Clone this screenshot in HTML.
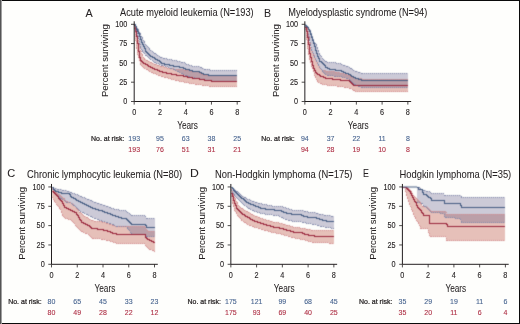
<!DOCTYPE html><html><head><meta charset="utf-8"><style>html,body{margin:0;padding:0;background:#fefefc;}svg{display:block;will-change:transform;}text{font-family:"Liberation Sans", sans-serif;stroke-width:0.06px;opacity:0.995;}.s{stroke-width:0.1px;}.k{fill:#231f20;stroke:#231f20;}.bt{fill:#46638f;stroke:#46638f;}.rt{fill:#ae2e44;stroke:#ae2e44;}</style></head><body>
<div><svg width="520" height="324" viewBox="0 0 520 324"><defs><filter id="bl" x="-5%" y="-5%" width="110%" height="110%" color-interpolation-filters="sRGB"><feConvolveMatrix order="3" kernelMatrix="0.03 0.1 0.03 0.1 0.48 0.1 0.03 0.1 0.03" divisor="1" edgeMode="duplicate" preserveAlpha="false"/></filter></defs>
<rect x="0" y="0" width="520" height="324" fill="#fefefc"/>
<g filter="url(#bl)"><polygon points="134,25 135,25 135,29 136,29 136,33 137,33 137,36 138,36 138,40 139,40 139,44 140,44 140,50 141,50 141,53 142,53 142,55 143,55 143,57 144,57 144,59 145,59 145,59 146,59 146,60 147,60 147,60 148,60 148,61 149,61 149,61 150,61 150,62 151,62 151,62 152,62 152,63 153,63 153,63 154,63 154,64 155,64 155,64 156,64 156,64 157,64 157,65 158,65 158,65 159,65 159,65 160,65 160,66 161,66 161,66 162,66 162,66 163,66 163,66 164,66 164,67 165,67 165,67 166,67 166,67 167,67 167,68 168,68 168,68 169,68 169,68 170,68 170,68 171,68 171,68 172,68 172,68 173,68 173,68 174,68 174,69 175,69 175,69 176,69 176,69 177,69 177,69 178,69 178,69 179,69 179,69 180,69 180,69 181,69 181,69 182,69 182,69 183,69 183,69 184,69 184,70 185,70 185,70 186,70 186,70 187,70 187,70 188,70 188,70 189,70 189,70 190,70 190,70 191,70 191,71 192,71 192,71 193,71 193,71 194,71 194,71 195,71 195,71 196,71 196,71 197,71 197,71 198,71 198,71 199,71 199,72 200,72 200,73 201,73 201,73 202,73 202,74 203,74 203,74 204,74 204,75 205,75 205,75 206,75 206,75 207,75 207,75 208,75 208,75 209,75 209,75 210,75 210,75 211,75 211,75 212,75 212,75 213,75 213,75 214,75 214,75 215,75 215,75 216,75 216,75 217,75 217,75 218,75 218,75 219,75 219,75 220,75 220,75 221,75 221,75 222,75 222,75 223,75 223,75 224,75 224,75 225,75 225,75 226,75 226,75 227,75 227,75 228,75 228,75 229,75 229,75 230,75 230,75 231,75 231,75 232,75 232,75 233,75 233,75 234,75 234,75 235,75 235,75 236,75 236,75 237,75 237,87 236,87 236,87 235,87 235,87 234,87 234,87 233,87 233,87 232,87 232,87 231,87 231,87 230,87 230,87 229,87 229,87 228,87 228,87 227,87 227,87 226,87 226,87 225,87 225,87 224,87 224,87 223,87 223,87 222,87 222,87 221,87 221,87 220,87 220,87 219,87 219,87 218,87 218,87 217,87 217,87 216,87 216,87 215,87 215,87 214,87 214,87 213,87 213,87 212,87 212,87 211,87 211,87 210,87 210,87 209,87 209,86 208,86 208,86 207,86 207,86 206,86 206,86 205,86 205,86 204,86 204,86 203,86 203,86 202,86 202,85 201,85 201,85 200,85 200,85 199,85 199,85 198,85 198,85 197,85 197,85 196,85 196,85 195,85 195,84 194,84 194,84 193,84 193,84 192,84 192,84 191,84 191,84 190,84 190,84 189,84 189,83 188,83 188,83 187,83 187,83 186,83 186,83 185,83 185,83 184,83 184,82 183,82 183,82 182,82 182,82 181,82 181,82 180,82 180,82 179,82 179,81 178,81 178,81 177,81 177,81 176,81 176,81 175,81 175,80 174,80 174,80 173,80 173,80 172,80 172,80 171,80 171,79 170,79 170,79 169,79 169,79 168,79 168,78 167,78 167,78 166,78 166,78 165,78 165,78 164,78 164,77 163,77 163,77 162,77 162,77 161,77 161,76 160,76 160,76 159,76 159,76 158,76 158,75 157,75 157,75 156,75 156,74 155,74 155,74 154,74 154,74 153,74 153,73 152,73 152,73 151,73 151,72 150,72 150,72 149,72 149,71 148,71 148,70 147,70 147,70 146,70 146,69 145,69 145,69 144,69 144,68 143,68 143,67 142,67 142,66 141,66 141,65 140,65 140,61 139,61 139,58 138,58 138,55 137,55 137,49 136,49 136,41 135,41 135,29 134,29" fill="#e6c0b9" shape-rendering="crispEdges"/><polygon points="134,24 135,24 135,25 136,25 136,26 137,26 137,28 138,28 138,30 139,30 139,32 140,32 140,34 141,34 141,36 142,36 142,38 143,38 143,40 144,40 144,42 145,42 145,44 146,44 146,45 147,45 147,46 148,46 148,47 149,47 149,49 150,49 150,50 151,50 151,50 152,50 152,51 153,51 153,52 154,52 154,53 155,53 155,53 156,53 156,54 157,54 157,55 158,55 158,55 159,55 159,56 160,56 160,57 161,57 161,57 162,57 162,57 163,57 163,58 164,58 164,58 165,58 165,58 166,58 166,58 167,58 167,59 168,59 168,59 169,59 169,59 170,59 170,59 171,59 171,59 172,59 172,60 173,60 173,60 174,60 174,60 175,60 175,60 176,60 176,60 177,60 177,61 178,61 178,61 179,61 179,61 180,61 180,61 181,61 181,62 182,62 182,62 183,62 183,62 184,62 184,62 185,62 185,63 186,63 186,64 187,64 187,64 188,64 188,64 189,64 189,65 190,65 190,65 191,65 191,65 192,65 192,66 193,66 193,66 194,66 194,66 195,66 195,66 196,66 196,66 197,66 197,66 198,66 198,66 199,66 199,66 200,66 200,67 201,67 201,67 202,67 202,68 203,68 203,68 204,68 204,69 205,69 205,69 206,69 206,69 207,69 207,69 208,69 208,69 209,69 209,69 210,69 210,70 211,70 211,70 212,70 212,70 213,70 213,70 214,70 214,70 215,70 215,70 216,70 216,70 217,70 217,70 218,70 218,70 219,70 219,70 220,70 220,70 221,70 221,70 222,70 222,70 223,70 223,70 224,70 224,70 225,70 225,70 226,70 226,70 227,70 227,70 228,70 228,70 229,70 229,70 230,70 230,70 231,70 231,70 232,70 232,70 233,70 233,70 234,70 234,70 235,70 235,70 236,70 236,70 237,70 237,82 236,82 236,82 235,82 235,82 234,82 234,82 233,82 233,82 232,82 232,82 231,82 231,82 230,82 230,82 229,82 229,82 228,82 228,82 227,82 227,82 226,82 226,82 225,82 225,82 224,82 224,82 223,82 223,82 222,82 222,82 221,82 221,82 220,82 220,82 219,82 219,82 218,82 218,82 217,82 217,82 216,82 216,82 215,82 215,82 214,82 214,82 213,82 213,82 212,82 212,82 211,82 211,81 210,81 210,81 209,81 209,81 208,81 208,81 207,81 207,81 206,81 206,81 205,81 205,81 204,81 204,80 203,80 203,80 202,80 202,80 201,80 201,80 200,80 200,80 199,80 199,79 198,79 198,79 197,79 197,79 196,79 196,79 195,79 195,78 194,78 194,78 193,78 193,78 192,78 192,78 191,78 191,77 190,77 190,77 189,77 189,77 188,77 188,76 187,76 187,76 186,76 186,76 185,76 185,75 184,75 184,75 183,75 183,74 182,74 182,74 181,74 181,73 180,73 180,73 179,73 179,72 178,72 178,72 177,72 177,71 176,71 176,71 175,71 175,70 174,70 174,70 173,70 173,69 172,69 172,69 171,69 171,69 170,69 170,68 169,68 169,68 168,68 168,67 167,67 167,67 166,67 166,67 165,67 165,66 164,66 164,66 163,66 163,66 162,66 162,66 161,66 161,65 160,65 160,65 159,65 159,64 158,64 158,64 157,64 157,64 156,64 156,63 155,63 155,63 154,63 154,62 153,62 153,61 152,61 152,60 151,60 151,60 150,60 150,59 149,59 149,58 148,58 148,57 147,57 147,56 146,56 146,56 145,56 145,54 144,54 144,53 143,53 143,52 142,52 142,50 141,50 141,48 140,48 140,44 139,44 139,39 138,39 138,36 137,36 137,32 136,32 136,29 135,29 135,26 134,26" fill="rgb(88,82,128)" fill-opacity="0.3" shape-rendering="crispEdges"/><path d="M134,25.5H135V29.5H136V33.5H137V36.5H138V40.5H139V44.5H140V50.5H141V53.5H142V55.5H143V57.5H144V59.5H145H146V60.5H147H148V61.5H149H150V62.5H151H152V63.5H153H154V64.5H155H156H157V65.5H158H159H160V66.5H161H162H163H164V67.5H165H166H167V68.5H168H169H170H171H172H173H174V69.5H175H176H177H178H179H180H181H182H183H184V70.5H185H186H187H188H189H190H191V71.5H192H193H194H195H196H197H198H199V72.5H200V73.5H201H202V74.5H203H204V75.5H205H206H207H208H209H210H211H212H213H214H215H216H217H218H219H220H221H222H223H224H225H226H227H228H229H230H231H232H233H234H235H236H237" fill="none" stroke="#d38e90" stroke-width="1" stroke-dasharray="1 1" shape-rendering="crispEdges"/><path d="M134,28.5H135V40.5H136V48.5H137V54.5H138V57.5H139V60.5H140V64.5H141V65.5H142V66.5H143V67.5H144V68.5H145H146V69.5H147H148V70.5H149V71.5H150H151V72.5H152H153V73.5H154H155H156V74.5H157H158V75.5H159H160H161V76.5H162H163H164V77.5H165H166H167H168V78.5H169H170H171V79.5H172H173H174H175V80.5H176H177H178H179V81.5H180H181H182H183H184V82.5H185H186H187H188H189V83.5H190H191H192H193H194H195V84.5H196H197H198H199H200H201H202V85.5H203H204H205H206H207H208H209V86.5H210H211H212H213H214H215H216H217H218H219H220H221H222H223H224H225H226H227H228H229H230H231H232H233H234H235H236H237" fill="none" stroke="#d38e90" stroke-width="1" stroke-dasharray="1 1" shape-rendering="crispEdges"/><path d="M134,24.5H135V25.5H136V26.5H137V28.5H138V30.5H139V32.5H140V34.5H141V36.5H142V38.5H143V40.5H144V42.5H145V44.5H146V45.5H147V46.5H148V47.5H149V49.5H150V50.5H151H152V51.5H153V52.5H154V53.5H155H156V54.5H157V55.5H158H159V56.5H160V57.5H161H162H163V58.5H164H165H166H167V59.5H168H169H170H171H172V60.5H173H174H175H176H177V61.5H178H179H180H181V62.5H182H183H184H185V63.5H186V64.5H187H188H189V65.5H190H191H192V66.5H193H194H195H196H197H198H199H200V67.5H201H202V68.5H203H204V69.5H205H206H207H208H209H210V70.5H211H212H213H214H215H216H217H218H219H220H221H222H223H224H225H226H227H228H229H230H231H232H233H234H235H236H237" fill="none" stroke="#8088aa" stroke-width="1" stroke-dasharray="1 1" shape-rendering="crispEdges"/><path d="M134,25.5H135V28.5H136V31.5H137V35.5H138V38.5H139V43.5H140V47.5H141V49.5H142V51.5H143V52.5H144V53.5H145V55.5H146H147V56.5H148V57.5H149V58.5H150V59.5H151H152V60.5H153V61.5H154V62.5H155H156V63.5H157H158H159V64.5H160H161V65.5H162H163H164H165V66.5H166H167H168V67.5H169H170V68.5H171H172H173V69.5H174H175V70.5H176H177V71.5H178H179V72.5H180H181V73.5H182H183V74.5H184H185V75.5H186H187H188V76.5H189H190H191V77.5H192H193H194H195V78.5H196H197H198H199V79.5H200H201H202H203H204V80.5H205H206H207H208H209H210H211V81.5H212H213H214H215H216H217H218H219H220H221H222H223H224H225H226H227H228H229H230H231H232H233H234H235H236H237" fill="none" stroke="#8088aa" stroke-width="1" stroke-dasharray="1 1" shape-rendering="crispEdges"/><path d="M134,25.5H135V31.5H136V36.5H137V43.5H138V51.5H139V57.5H140V60.5H141V61.5H142V62.5H143V63.5H144H145V64.5H146H147V65.5H148V66.5H149H150V67.5H151H152V68.5H153H154V69.5H155H156H157V70.5H158H159V71.5H160H161H162V72.5H163H164H165H166V73.5H167H168H169H170H171V74.5H172H173H174H175H176V75.5H177H178H179H180H181H182H183V76.5H184H185H186H187V77.5H188H189H190H191H192V78.5H193H194H195H196H197H198H199V79.5H200H201H202H203H204V80.5H205H206H207H208H209H210H211V81.5H212H213H214H215H216H217H218H219H220H221H222H223H224H225H226H227H228H229H230H231H232H233H234H235H236H237" fill="none" stroke="#98243a" stroke-width="1" shape-rendering="crispEdges"/><path d="M134,24.5H135V26.5H136V29.5H137V31.5H138V33.5H139V36.5H140V39.5H141V42.5H142V44.5H143V46.5H144V48.5H145V51.5H146V52.5H147V53.5H148V54.5H149V55.5H150V56.5H151H152V57.5H153H154V58.5H155V59.5H156H157V60.5H158H159V61.5H160V62.5H161V63.5H162H163H164V64.5H165H166H167H168H169V65.5H170H171H172H173V66.5H174H175H176H177H178H179V67.5H180H181H182H183V68.5H184H185V69.5H186H187H188H189V70.5H190H191H192V71.5H193H194H195H196H197H198H199V72.5H200H201V73.5H202H203V74.5H204H205H206H207H208V75.5H209H210H211H212H213H214H215H216H217H218H219H220H221H222H223H224H225H226H227H228H229H230H231H232H233H234H235H236H237" fill="none" stroke="#425a80" stroke-width="1" shape-rendering="crispEdges"/></g><g><path d="M134.20,21.30V101.50H240.50" fill="none" stroke="#231f20" stroke-width="1"/><path d="M131.00,101.50H134.20M134.20,101.50V104.60M131.00,82.20H134.20M159.95,101.50V104.60M131.00,62.90H134.20M185.70,101.50V104.60M131.00,43.60H134.20M211.45,101.50V104.60M131.00,24.30H134.20M237.20,101.50V104.60" fill="none" stroke="#231f20" stroke-width="0.8"/><text transform="translate(127.40,104.10) scale(1,1.14)" font-size="7.3" text-anchor="end" class="k s">0</text><text transform="translate(127.40,84.80) scale(1,1.14)" font-size="7.3" text-anchor="end" class="k s">25</text><text transform="translate(127.40,65.50) scale(1,1.14)" font-size="7.3" text-anchor="end" class="k s">50</text><text transform="translate(127.40,46.20) scale(1,1.14)" font-size="7.3" text-anchor="end" class="k s">75</text><text transform="translate(127.40,26.90) scale(1,1.14)" font-size="7.3" text-anchor="end" class="k s">100</text><text transform="translate(134.20,115.20) scale(1,1.14)" font-size="7.3" text-anchor="middle" class="k s">0</text><text transform="translate(159.95,115.20) scale(1,1.14)" font-size="7.3" text-anchor="middle" class="k s">2</text><text transform="translate(185.70,115.20) scale(1,1.14)" font-size="7.3" text-anchor="middle" class="k s">4</text><text transform="translate(211.45,115.20) scale(1,1.14)" font-size="7.3" text-anchor="middle" class="k s">6</text><text transform="translate(237.20,115.20) scale(1,1.14)" font-size="7.3" text-anchor="middle" class="k s">8</text><text x="177.20" y="129.10" font-size="10.2" textLength="20.8" lengthAdjust="spacingAndGlyphs" class="k">Years</text><text transform="translate(107.50,97.00) rotate(-90)" x="0" y="0" font-size="9.7" textLength="72.8" lengthAdjust="spacingAndGlyphs" class="k">Percent surviving</text><text x="85.6" y="16.8" font-size="11" textLength="7.2" lengthAdjust="spacingAndGlyphs" class="k">A</text><text x="120.1" y="15.9" font-size="10.1" textLength="133.6" lengthAdjust="spacingAndGlyphs" class="k">Acute myeloid leukemia (N=193)</text><text x="91.00" y="140.80" font-size="7" textLength="33.4" lengthAdjust="spacingAndGlyphs" class="k" style="stroke-width:0.24px">No. at risk:</text><text x="134.20" y="140.80" font-size="7" text-anchor="middle" class="bt s">193</text><text x="134.20" y="152.00" font-size="7" text-anchor="middle" class="rt s">193</text><text x="159.95" y="140.80" font-size="7" text-anchor="middle" class="bt s">95</text><text x="159.95" y="152.00" font-size="7" text-anchor="middle" class="rt s">76</text><text x="185.70" y="140.80" font-size="7" text-anchor="middle" class="bt s">63</text><text x="185.70" y="152.00" font-size="7" text-anchor="middle" class="rt s">51</text><text x="211.45" y="140.80" font-size="7" text-anchor="middle" class="bt s">38</text><text x="211.45" y="152.00" font-size="7" text-anchor="middle" class="rt s">31</text><text x="237.20" y="140.80" font-size="7" text-anchor="middle" class="bt s">25</text><text x="237.20" y="152.00" font-size="7" text-anchor="middle" class="rt s">21</text></g>
<g filter="url(#bl)"><polygon points="305,25 306,25 306,27 307,27 307,29 308,29 308,35 309,35 309,42 310,42 310,48 311,48 311,50 312,50 312,52 313,52 313,54 314,54 314,57 315,57 315,59 316,59 316,61 317,61 317,63 318,63 318,65 319,65 319,67 320,67 320,68 321,68 321,69 322,69 322,70 323,70 323,70 324,70 324,70 325,70 325,70 326,70 326,71 327,71 327,71 328,71 328,71 329,71 329,71 330,71 330,71 331,71 331,71 332,71 332,71 333,71 333,71 334,71 334,71 335,71 335,72 336,72 336,72 337,72 337,72 338,72 338,72 339,72 339,72 340,72 340,73 341,73 341,73 342,73 342,73 343,73 343,73 344,73 344,74 345,74 345,74 346,74 346,74 347,74 347,75 348,75 348,75 349,75 349,75 350,75 350,76 351,76 351,76 352,76 352,77 353,77 353,77 354,77 354,77 355,77 355,77 356,77 356,78 357,78 357,78 358,78 358,78 359,78 359,78 360,78 360,78 361,78 361,78 362,78 362,79 363,79 363,79 364,79 364,79 365,79 365,79 366,79 366,79 367,79 367,79 368,79 368,79 369,79 369,79 370,79 370,79 371,79 371,79 372,79 372,79 373,79 373,79 374,79 374,79 375,79 375,79 376,79 376,79 377,79 377,79 378,79 378,79 379,79 379,79 380,79 380,79 381,79 381,79 382,79 382,79 383,79 383,79 384,79 384,79 385,79 385,79 386,79 386,79 387,79 387,79 388,79 388,79 389,79 389,79 390,79 390,79 391,79 391,79 392,79 392,79 393,79 393,79 394,79 394,79 395,79 395,79 396,79 396,79 397,79 397,79 398,79 398,79 399,79 399,79 400,79 400,79 401,79 401,79 402,79 402,79 403,79 403,79 404,79 404,79 405,79 405,79 406,79 406,79 407,79 407,79 408,79 408,92 407,92 407,92 406,92 406,92 405,92 405,92 404,92 404,92 403,92 403,92 402,92 402,92 401,92 401,92 400,92 400,92 399,92 399,92 398,92 398,92 397,92 397,92 396,92 396,92 395,92 395,92 394,92 394,92 393,92 393,92 392,92 392,92 391,92 391,92 390,92 390,92 389,92 389,92 388,92 388,92 387,92 387,92 386,92 386,92 385,92 385,92 384,92 384,92 383,92 383,92 382,92 382,92 381,92 381,92 380,92 380,92 379,92 379,92 378,92 378,92 377,92 377,92 376,92 376,92 375,92 375,92 374,92 374,92 373,92 373,92 372,92 372,92 371,92 371,92 370,92 370,92 369,92 369,92 368,92 368,92 367,92 367,92 366,92 366,92 365,92 365,92 364,92 364,92 363,92 363,92 362,92 362,92 361,92 361,92 360,92 360,92 359,92 359,92 358,92 358,92 357,92 357,92 356,92 356,92 355,92 355,91 354,91 354,91 353,91 353,90 352,90 352,89 351,89 351,89 350,89 350,89 349,89 349,88 348,88 348,88 347,88 347,88 346,88 346,88 345,88 345,88 344,88 344,87 343,87 343,87 342,87 342,87 341,87 341,87 340,87 340,87 339,87 339,87 338,87 338,87 337,87 337,86 336,86 336,86 335,86 335,86 334,86 334,86 333,86 333,86 332,86 332,86 331,86 331,86 330,86 330,86 329,86 329,86 328,86 328,86 327,86 327,85 326,85 326,85 325,85 325,85 324,85 324,85 323,85 323,85 322,85 322,84 321,84 321,84 320,84 320,83 319,83 319,83 318,83 318,82 317,82 317,80 316,80 316,78 315,78 315,76 314,76 314,72 313,72 313,69 312,69 312,67 311,67 311,63 310,63 310,60 309,60 309,55 308,55 308,49 307,49 307,40 306,40 306,30 305,30" fill="#e6c0b9" shape-rendering="crispEdges"/><polygon points="305,24 306,24 306,25 307,25 307,26 308,26 308,27 309,27 309,29 310,29 310,31 311,31 311,34 312,34 312,37 313,37 313,40 314,40 314,42 315,42 315,43 316,43 316,45 317,45 317,48 318,48 318,51 319,51 319,54 320,54 320,55 321,55 321,56 322,56 322,58 323,58 323,59 324,59 324,60 325,60 325,61 326,61 326,61 327,61 327,62 328,62 328,62 329,62 329,62 330,62 330,62 331,62 331,62 332,62 332,62 333,62 333,62 334,62 334,62 335,62 335,62 336,62 336,63 337,63 337,63 338,63 338,63 339,63 339,63 340,63 340,63 341,63 341,64 342,64 342,64 343,64 343,65 344,65 344,65 345,65 345,65 346,65 346,66 347,66 347,66 348,66 348,66 349,66 349,67 350,67 350,68 351,68 351,68 352,68 352,69 353,69 353,70 354,70 354,70 355,70 355,71 356,71 356,71 357,71 357,71 358,71 358,72 359,72 359,72 360,72 360,72 361,72 361,73 362,73 362,73 363,73 363,73 364,73 364,73 365,73 365,73 366,73 366,73 367,73 367,73 368,73 368,73 369,73 369,73 370,73 370,73 371,73 371,73 372,73 372,73 373,73 373,73 374,73 374,73 375,73 375,73 376,73 376,73 377,73 377,73 378,73 378,73 379,73 379,73 380,73 380,73 381,73 381,73 382,73 382,73 383,73 383,73 384,73 384,73 385,73 385,73 386,73 386,73 387,73 387,73 388,73 388,73 389,73 389,73 390,73 390,73 391,73 391,73 392,73 392,73 393,73 393,73 394,73 394,73 395,73 395,73 396,73 396,73 397,73 397,73 398,73 398,73 399,73 399,73 400,73 400,73 401,73 401,73 402,73 402,73 403,73 403,73 404,73 404,73 405,73 405,73 406,73 406,73 407,73 407,73 408,73 408,88 407,88 407,88 406,88 406,88 405,88 405,88 404,88 404,88 403,88 403,88 402,88 402,88 401,88 401,88 400,88 400,88 399,88 399,88 398,88 398,88 397,88 397,88 396,88 396,88 395,88 395,88 394,88 394,88 393,88 393,88 392,88 392,88 391,88 391,88 390,88 390,88 389,88 389,88 388,88 388,88 387,88 387,88 386,88 386,88 385,88 385,88 384,88 384,88 383,88 383,88 382,88 382,88 381,88 381,88 380,88 380,88 379,88 379,88 378,88 378,88 377,88 377,88 376,88 376,88 375,88 375,88 374,88 374,88 373,88 373,88 372,88 372,88 371,88 371,88 370,88 370,88 369,88 369,88 368,88 368,88 367,88 367,88 366,88 366,88 365,88 365,88 364,88 364,88 363,88 363,88 362,88 362,88 361,88 361,87 360,87 360,87 359,87 359,87 358,87 358,86 357,86 357,86 356,86 356,85 355,85 355,85 354,85 354,84 353,84 353,83 352,83 352,82 351,82 351,81 350,81 350,80 349,80 349,79 348,79 348,79 347,79 347,79 346,79 346,78 345,78 345,78 344,78 344,78 343,78 343,78 342,78 342,77 341,77 341,77 340,77 340,77 339,77 339,77 338,77 338,77 337,77 337,77 336,77 336,77 335,77 335,77 334,77 334,76 333,76 333,76 332,76 332,76 331,76 331,76 330,76 330,76 329,76 329,76 328,76 328,76 327,76 327,75 326,75 326,75 325,75 325,74 324,74 324,73 323,73 323,72 322,72 322,70 321,70 321,69 320,69 320,68 319,68 319,66 318,66 318,64 317,64 317,62 316,62 316,60 315,60 315,58 314,58 314,56 313,56 313,53 312,53 312,51 311,51 311,46 310,46 310,41 309,41 309,37 308,37 308,33 307,33 307,30 306,30 306,27 305,27" fill="rgb(88,82,128)" fill-opacity="0.3" shape-rendering="crispEdges"/><path d="M305,25.5H306V27.5H307V29.5H308V35.5H309V42.5H310V48.5H311V50.5H312V52.5H313V54.5H314V57.5H315V59.5H316V61.5H317V63.5H318V65.5H319V67.5H320V68.5H321V69.5H322V70.5H323H324H325H326V71.5H327H328H329H330H331H332H333H334H335V72.5H336H337H338H339H340V73.5H341H342H343H344V74.5H345H346H347V75.5H348H349H350V76.5H351H352V77.5H353H354H355H356V78.5H357H358H359H360H361H362V79.5H363H364H365H366H367H368H369H370H371H372H373H374H375H376H377H378H379H380H381H382H383H384H385H386H387H388H389H390H391H392H393H394H395H396H397H398H399H400H401H402H403H404H405H406H407H408" fill="none" stroke="#d38e90" stroke-width="1" stroke-dasharray="1 1" shape-rendering="crispEdges"/><path d="M305,29.5H306V39.5H307V48.5H308V54.5H309V59.5H310V62.5H311V66.5H312V68.5H313V71.5H314V75.5H315V77.5H316V79.5H317V81.5H318V82.5H319H320V83.5H321H322V84.5H323H324H325H326H327V85.5H328H329H330H331H332H333H334H335H336H337V86.5H338H339H340H341H342H343H344V87.5H345H346H347H348H349V88.5H350H351H352V89.5H353V90.5H354H355V91.5H356H357H358H359H360H361H362H363H364H365H366H367H368H369H370H371H372H373H374H375H376H377H378H379H380H381H382H383H384H385H386H387H388H389H390H391H392H393H394H395H396H397H398H399H400H401H402H403H404H405H406H407H408" fill="none" stroke="#d38e90" stroke-width="1" stroke-dasharray="1 1" shape-rendering="crispEdges"/><path d="M305,24.5H306V25.5H307V26.5H308V27.5H309V29.5H310V31.5H311V34.5H312V37.5H313V40.5H314V42.5H315V43.5H316V45.5H317V48.5H318V51.5H319V54.5H320V55.5H321V56.5H322V58.5H323V59.5H324V60.5H325V61.5H326H327V62.5H328H329H330H331H332H333H334H335H336V63.5H337H338H339H340H341V64.5H342H343V65.5H344H345H346V66.5H347H348H349V67.5H350V68.5H351H352V69.5H353V70.5H354H355V71.5H356H357H358V72.5H359H360H361V73.5H362H363H364H365H366H367H368H369H370H371H372H373H374H375H376H377H378H379H380H381H382H383H384H385H386H387H388H389H390H391H392H393H394H395H396H397H398H399H400H401H402H403H404H405H406H407H408" fill="none" stroke="#8088aa" stroke-width="1" stroke-dasharray="1 1" shape-rendering="crispEdges"/><path d="M305,26.5H306V29.5H307V32.5H308V36.5H309V40.5H310V45.5H311V50.5H312V52.5H313V55.5H314V57.5H315V59.5H316V61.5H317V63.5H318V65.5H319V67.5H320V68.5H321V69.5H322V71.5H323V72.5H324V73.5H325V74.5H326H327V75.5H328H329H330H331H332H333H334V76.5H335H336H337H338H339H340H341H342V77.5H343H344H345H346V78.5H347H348H349V79.5H350V80.5H351V81.5H352V82.5H353V83.5H354V84.5H355H356V85.5H357H358V86.5H359H360H361V87.5H362H363H364H365H366H367H368H369H370H371H372H373H374H375H376H377H378H379H380H381H382H383H384H385H386H387H388H389H390H391H392H393H394H395H396H397H398H399H400H401H402H403H404H405H406H407H408" fill="none" stroke="#8088aa" stroke-width="1" stroke-dasharray="1 1" shape-rendering="crispEdges"/><path d="M305,27.5H306V31.5H307V37.5H308V44.5H309V53.5H310V57.5H311V61.5H312V65.5H313V68.5H314V70.5H315V72.5H316V73.5H317V74.5H318H319V75.5H320V76.5H321H322H323V77.5H324H325V78.5H326H327H328H329H330H331H332V79.5H333H334H335H336H337H338H339H340V80.5H341H342H343H344H345H346H347H348H349V81.5H350V82.5H351V83.5H352V84.5H353V85.5H354H355H356H357H358H359H360H361H362H363H364H365H366H367H368H369H370H371H372H373H374H375H376H377H378H379H380H381H382H383H384H385H386H387H388H389H390H391H392H393H394H395H396H397H398H399H400H401H402H403H404H405H406H407H408" fill="none" stroke="#98243a" stroke-width="1" shape-rendering="crispEdges"/><path d="M305,25.5H306V26.5H307V27.5H308V29.5H309V31.5H310V34.5H311V37.5H312V40.5H313V43.5H314V46.5H315V50.5H316V53.5H317V56.5H318V58.5H319V61.5H320H321V62.5H322V63.5H323V64.5H324V65.5H325V67.5H326H327V68.5H328H329V69.5H330H331H332H333H334H335V70.5H336H337H338H339H340H341V71.5H342H343V72.5H344H345V73.5H346H347H348V74.5H349H350V75.5H351V76.5H352H353V77.5H354H355V78.5H356H357H358V79.5H359H360H361V80.5H362H363H364H365H366H367H368H369H370H371H372H373H374H375H376H377H378H379H380H381H382H383H384H385H386H387H388H389H390H391H392H393H394H395H396H397H398H399H400H401H402H403H404H405H406H407H408" fill="none" stroke="#425a80" stroke-width="1" shape-rendering="crispEdges"/></g><g><path d="M304.85,21.30V101.50H411.15" fill="none" stroke="#231f20" stroke-width="1"/><path d="M301.65,101.50H304.85M304.85,101.50V104.60M301.65,82.20H304.85M330.60,101.50V104.60M301.65,62.90H304.85M356.35,101.50V104.60M301.65,43.60H304.85M382.10,101.50V104.60M301.65,24.30H304.85M407.85,101.50V104.60" fill="none" stroke="#231f20" stroke-width="0.8"/><text transform="translate(298.05,104.10) scale(1,1.14)" font-size="7.3" text-anchor="end" class="k s">0</text><text transform="translate(298.05,84.80) scale(1,1.14)" font-size="7.3" text-anchor="end" class="k s">25</text><text transform="translate(298.05,65.50) scale(1,1.14)" font-size="7.3" text-anchor="end" class="k s">50</text><text transform="translate(298.05,46.20) scale(1,1.14)" font-size="7.3" text-anchor="end" class="k s">75</text><text transform="translate(298.05,26.90) scale(1,1.14)" font-size="7.3" text-anchor="end" class="k s">100</text><text transform="translate(304.85,115.20) scale(1,1.14)" font-size="7.3" text-anchor="middle" class="k s">0</text><text transform="translate(330.60,115.20) scale(1,1.14)" font-size="7.3" text-anchor="middle" class="k s">2</text><text transform="translate(356.35,115.20) scale(1,1.14)" font-size="7.3" text-anchor="middle" class="k s">4</text><text transform="translate(382.10,115.20) scale(1,1.14)" font-size="7.3" text-anchor="middle" class="k s">6</text><text transform="translate(407.85,115.20) scale(1,1.14)" font-size="7.3" text-anchor="middle" class="k s">8</text><text x="347.85" y="129.10" font-size="10.2" textLength="20.8" lengthAdjust="spacingAndGlyphs" class="k">Years</text><text transform="translate(278.60,97.00) rotate(-90)" x="0" y="0" font-size="9.7" textLength="72.8" lengthAdjust="spacingAndGlyphs" class="k">Percent surviving</text><text x="263.9" y="16.8" font-size="11" textLength="7.1" lengthAdjust="spacingAndGlyphs" class="k">B</text><text x="288.25" y="15.9" font-size="10.1" textLength="139.0" lengthAdjust="spacingAndGlyphs" class="k">Myelodysplastic syndrome (N=94)</text><text x="261.25" y="140.80" font-size="7" textLength="33.4" lengthAdjust="spacingAndGlyphs" class="k" style="stroke-width:0.24px">No. at risk:</text><text x="304.85" y="140.80" font-size="7" text-anchor="middle" class="bt s">94</text><text x="304.85" y="152.00" font-size="7" text-anchor="middle" class="rt s">94</text><text x="330.60" y="140.80" font-size="7" text-anchor="middle" class="bt s">37</text><text x="330.60" y="152.00" font-size="7" text-anchor="middle" class="rt s">28</text><text x="356.35" y="140.80" font-size="7" text-anchor="middle" class="bt s">22</text><text x="356.35" y="152.00" font-size="7" text-anchor="middle" class="rt s">19</text><text x="382.10" y="140.80" font-size="7" text-anchor="middle" class="bt s">11</text><text x="382.10" y="152.00" font-size="7" text-anchor="middle" class="rt s">10</text><text x="407.85" y="140.80" font-size="7" text-anchor="middle" class="bt s">8</text><text x="407.85" y="152.00" font-size="7" text-anchor="middle" class="rt s">8</text></g>
<g filter="url(#bl)"><polygon points="52,188 53,188 53,190 54,190 54,191 55,191 55,192 56,192 56,192 57,192 57,193 58,193 58,194 59,194 59,194 60,194 60,195 61,195 61,196 62,196 62,197 63,197 63,198 64,198 64,198 65,198 65,200 66,200 66,201 67,201 67,201 68,201 68,202 69,202 69,202 70,202 70,202 71,202 71,203 72,203 72,203 73,203 73,204 74,204 74,205 75,205 75,206 76,206 76,208 77,208 77,209 78,209 78,210 79,210 79,212 80,212 80,212 81,212 81,213 82,213 82,214 83,214 83,215 84,215 84,216 85,216 85,216 86,216 86,217 87,217 87,217 88,217 88,218 89,218 89,219 90,219 90,219 91,219 91,220 92,220 92,220 93,220 93,220 94,220 94,221 95,221 95,221 96,221 96,221 97,221 97,221 98,221 98,221 99,221 99,221 100,221 100,221 101,221 101,221 102,221 102,222 103,222 103,222 104,222 104,222 105,222 105,222 106,222 106,223 107,223 107,223 108,223 108,223 109,223 109,224 110,224 110,224 111,224 111,224 112,224 112,225 113,225 113,225 114,225 114,225 115,225 115,226 116,226 116,226 117,226 117,226 118,226 118,226 119,226 119,226 120,226 120,226 121,226 121,226 122,226 122,226 123,226 123,226 124,226 124,226 125,226 125,226 126,226 126,226 127,226 127,226 128,226 128,226 129,226 129,226 130,226 130,226 131,226 131,226 132,226 132,226 133,226 133,226 134,226 134,226 135,226 135,226 136,226 136,226 137,226 137,226 138,226 138,226 139,226 139,226 140,226 140,226 141,226 141,226 142,226 142,226 143,226 143,226 144,226 144,226 145,226 145,227 146,227 146,229 147,229 147,230 148,230 148,231 149,231 149,231 150,231 150,231 151,231 151,231 152,231 152,231 153,231 153,231 154,231 154,231 155,231 155,252 154,252 154,251 153,251 153,251 152,251 152,250 151,250 151,250 150,250 150,250 149,250 149,249 148,249 148,248 147,248 147,247 146,247 146,246 145,246 145,244 144,244 144,244 143,244 143,244 142,244 142,244 141,244 141,244 140,244 140,244 139,244 139,244 138,244 138,244 137,244 137,244 136,244 136,244 135,244 135,244 134,244 134,244 133,244 133,244 132,244 132,244 131,244 131,244 130,244 130,244 129,244 129,244 128,244 128,244 127,244 127,244 126,244 126,244 125,244 125,244 124,244 124,244 123,244 123,244 122,244 122,244 121,244 121,244 120,244 120,244 119,244 119,244 118,244 118,244 117,244 117,244 116,244 116,243 115,243 115,243 114,243 114,243 113,243 113,242 112,242 112,242 111,242 111,242 110,242 110,241 109,241 109,241 108,241 108,241 107,241 107,241 106,241 106,240 105,240 105,240 104,240 104,240 103,240 103,240 102,240 102,240 101,240 101,239 100,239 100,239 99,239 99,239 98,239 98,239 97,239 97,239 96,239 96,239 95,239 95,239 94,239 94,239 93,239 93,239 92,239 92,238 91,238 91,237 90,237 90,236 89,236 89,235 88,235 88,234 87,234 87,234 86,234 86,234 85,234 85,233 84,233 84,233 83,233 83,232 82,232 82,232 81,232 81,231 80,231 80,230 79,230 79,229 78,229 78,228 77,228 77,227 76,227 76,226 75,226 75,224 74,224 74,223 73,223 73,222 72,222 72,221 71,221 71,220 70,220 70,220 69,220 69,220 68,220 68,219 67,219 67,219 66,219 66,219 65,219 65,218 64,218 64,217 63,217 63,216 62,216 62,213 61,213 61,210 60,210 60,209 59,209 59,207 58,207 58,206 57,206 57,205 56,205 56,203 55,203 55,202 54,202 54,200 53,200 53,198 52,198" fill="#e6c0b9" shape-rendering="crispEdges"/><polygon points="52,187 53,187 53,188 54,188 54,188 55,188 55,188 56,188 56,188 57,188 57,189 58,189 58,189 59,189 59,189 60,189 60,189 61,189 61,189 62,189 62,190 63,190 63,190 64,190 64,190 65,190 65,190 66,190 66,190 67,190 67,191 68,191 68,191 69,191 69,191 70,191 70,192 71,192 71,192 72,192 72,193 73,193 73,193 74,193 74,193 75,193 75,194 76,194 76,194 77,194 77,194 78,194 78,195 79,195 79,195 80,195 80,196 81,196 81,196 82,196 82,197 83,197 83,197 84,197 84,197 85,197 85,198 86,198 86,198 87,198 87,199 88,199 88,199 89,199 89,199 90,199 90,200 91,200 91,200 92,200 92,201 93,201 93,201 94,201 94,202 95,202 95,202 96,202 96,202 97,202 97,203 98,203 98,203 99,203 99,203 100,203 100,204 101,204 101,204 102,204 102,204 103,204 103,205 104,205 104,205 105,205 105,205 106,205 106,206 107,206 107,206 108,206 108,206 109,206 109,207 110,207 110,207 111,207 111,208 112,208 112,208 113,208 113,208 114,208 114,209 115,209 115,209 116,209 116,209 117,209 117,209 118,209 118,209 119,209 119,210 120,210 120,210 121,210 121,210 122,210 122,210 123,210 123,210 124,210 124,210 125,210 125,210 126,210 126,211 127,211 127,212 128,212 128,212 129,212 129,213 130,213 130,214 131,214 131,215 132,215 132,215 133,215 133,215 134,215 134,215 135,215 135,215 136,215 136,215 137,215 137,215 138,215 138,215 139,215 139,215 140,215 140,215 141,215 141,215 142,215 142,215 143,215 143,215 144,215 144,215 145,215 145,216 146,216 146,218 147,218 147,218 148,218 148,218 149,218 149,218 150,218 150,218 151,218 151,218 152,218 152,218 153,218 153,218 154,218 154,218 155,218 155,237 154,237 154,237 153,237 153,237 152,237 152,237 151,237 151,237 150,237 150,237 149,237 149,237 148,237 148,237 147,237 147,237 146,237 146,236 145,236 145,235 144,235 144,235 143,235 143,235 142,235 142,235 141,235 141,235 140,235 140,235 139,235 139,235 138,235 138,235 137,235 137,235 136,235 136,235 135,235 135,235 134,235 134,235 133,235 133,235 132,235 132,235 131,235 131,233 130,233 130,231 129,231 129,230 128,230 128,229 127,229 127,227 126,227 126,227 125,227 125,227 124,227 124,227 123,227 123,227 122,227 122,227 121,227 121,227 120,227 120,227 119,227 119,227 118,227 118,227 117,227 117,227 116,227 116,226 115,226 115,226 114,226 114,225 113,225 113,225 112,225 112,224 111,224 111,224 110,224 110,224 109,224 109,223 108,223 108,223 107,223 107,223 106,223 106,222 105,222 105,222 104,222 104,222 103,222 103,222 102,222 102,221 101,221 101,221 100,221 100,221 99,221 99,220 98,220 98,220 97,220 97,219 96,219 96,219 95,219 95,219 94,219 94,218 93,218 93,218 92,218 92,217 91,217 91,217 90,217 90,216 89,216 89,216 88,216 88,215 87,215 87,215 86,215 86,214 85,214 85,214 84,214 84,213 83,213 83,213 82,213 82,212 81,212 81,212 80,212 80,211 79,211 79,210 78,210 78,209 77,209 77,208 76,208 76,207 75,207 75,206 74,206 74,206 73,206 73,205 72,205 72,204 71,204 71,203 70,203 70,203 69,203 69,203 68,203 68,203 67,203 67,203 66,203 66,202 65,202 65,201 64,201 64,200 63,200 63,200 62,200 62,199 61,199 61,199 60,199 60,198 59,198 59,197 58,197 58,197 57,197 57,196 56,196 56,195 55,195 55,194 54,194 54,193 53,193 53,190 52,190" fill="rgb(88,82,128)" fill-opacity="0.3" shape-rendering="crispEdges"/><path d="M52,188.5H53V190.5H54V191.5H55V192.5H56H57V193.5H58V194.5H59H60V195.5H61V196.5H62V197.5H63V198.5H64H65V200.5H66V201.5H67H68V202.5H69H70H71V203.5H72H73V204.5H74V205.5H75V206.5H76V208.5H77V209.5H78V210.5H79V212.5H80H81V213.5H82V214.5H83V215.5H84V216.5H85H86V217.5H87H88V218.5H89V219.5H90H91V220.5H92H93H94V221.5H95H96H97H98H99H100H101H102V222.5H103H104H105H106V223.5H107H108H109V224.5H110H111H112V225.5H113H114H115V226.5H116H117H118H119H120H121H122H123H124H125H126H127H128H129H130H131H132H133H134H135H136H137H138H139H140H141H142H143H144H145V227.5H146V229.5H147V230.5H148V231.5H149H150H151H152H153H154H155" fill="none" stroke="#d38e90" stroke-width="1" stroke-dasharray="1 1" shape-rendering="crispEdges"/><path d="M52,197.5H53V199.5H54V201.5H55V202.5H56V204.5H57V205.5H58V206.5H59V208.5H60V209.5H61V212.5H62V215.5H63V216.5H64V217.5H65V218.5H66H67H68V219.5H69H70H71V220.5H72V221.5H73V222.5H74V223.5H75V225.5H76V226.5H77V227.5H78V228.5H79V229.5H80V230.5H81V231.5H82H83V232.5H84H85V233.5H86H87H88V234.5H89V235.5H90V236.5H91V237.5H92V238.5H93H94H95H96H97H98H99H100H101V239.5H102H103H104H105H106V240.5H107H108H109H110V241.5H111H112H113V242.5H114H115H116V243.5H117H118H119H120H121H122H123H124H125H126H127H128H129H130H131H132H133H134H135H136H137H138H139H140H141H142H143H144H145V245.5H146V246.5H147V247.5H148V248.5H149V249.5H150H151H152V250.5H153H154V251.5H155" fill="none" stroke="#d38e90" stroke-width="1" stroke-dasharray="1 1" shape-rendering="crispEdges"/><path d="M52,187.5H53V188.5H54H55H56H57V189.5H58H59H60H61H62V190.5H63H64H65H66H67V191.5H68H69H70V192.5H71H72V193.5H73H74H75V194.5H76H77H78V195.5H79H80V196.5H81H82V197.5H83H84H85V198.5H86H87V199.5H88H89H90V200.5H91H92V201.5H93H94V202.5H95H96H97V203.5H98H99H100V204.5H101H102H103V205.5H104H105H106V206.5H107H108H109V207.5H110H111V208.5H112H113H114V209.5H115H116H117H118H119V210.5H120H121H122H123H124H125H126V211.5H127V212.5H128H129V213.5H130V214.5H131V215.5H132H133H134H135H136H137H138H139H140H141H142H143H144H145V216.5H146V218.5H147H148H149H150H151H152H153H154H155" fill="none" stroke="#8088aa" stroke-width="1" stroke-dasharray="1 1" shape-rendering="crispEdges"/><path d="M52,189.5H53V192.5H54V193.5H55V194.5H56V195.5H57V196.5H58H59V197.5H60V198.5H61H62V199.5H63H64V200.5H65V201.5H66V202.5H67H68H69H70H71V203.5H72V204.5H73V205.5H74H75V206.5H76V207.5H77V208.5H78V209.5H79V210.5H80V211.5H81H82V212.5H83H84V213.5H85H86V214.5H87H88V215.5H89H90V216.5H91H92V217.5H93H94V218.5H95H96H97V219.5H98H99V220.5H100H101H102V221.5H103H104H105H106V222.5H107H108H109V223.5H110H111H112V224.5H113H114V225.5H115H116V226.5H117H118H119H120H121H122H123H124H125H126H127V228.5H128V229.5H129V230.5H130V232.5H131V234.5H132H133H134H135H136H137H138H139H140H141H142H143H144H145V235.5H146V236.5H147H148H149H150H151H152H153H154H155" fill="none" stroke="#8088aa" stroke-width="1" stroke-dasharray="1 1" shape-rendering="crispEdges"/><path d="M52,191.5H53V192.5H54V193.5H55V194.5H56V195.5H57V196.5H58V198.5H59V199.5H60V200.5H61V201.5H62V203.5H63V205.5H64V207.5H65H66V208.5H67H68V209.5H69H70V210.5H71H72V211.5H73H74V212.5H75H76V214.5H77V215.5H78V217.5H79V219.5H80V220.5H81V222.5H82H83V223.5H84H85V224.5H86H87V225.5H88H89V226.5H90V227.5H91V228.5H92H93H94H95H96H97V229.5H98H99H100H101H102H103V230.5H104H105H106H107V231.5H108H109H110V232.5H111H112V233.5H113H114H115H116V234.5H117H118H119H120H121H122H123H124H125H126H127H128H129H130H131H132H133H134H135H136H137H138H139H140H141H142H143H144H145V237.5H146V238.5H147V239.5H148H149V240.5H150H151V241.5H152H153V242.5H154H155" fill="none" stroke="#98243a" stroke-width="1" shape-rendering="crispEdges"/><path d="M52,187.5H53V189.5H54V190.5H55V191.5H56H57H58V192.5H59H60H61V193.5H62H63H64H65H66H67H68H69V194.5H70V196.5H71V197.5H72H73V198.5H74H75V199.5H76V200.5H77H78V201.5H79H80V202.5H81H82V203.5H83H84V204.5H85H86V205.5H87H88V206.5H89H90V207.5H91H92V208.5H93H94H95V209.5H96H97H98V210.5H99H100H101H102V211.5H103H104V212.5H105H106H107V213.5H108H109H110V214.5H111H112V215.5H113H114H115V216.5H116H117H118V217.5H119H120H121V218.5H122H123H124H125H126V219.5H127V220.5H128V221.5H129V222.5H130V223.5H131V224.5H132H133H134H135H136H137H138H139H140H141H142H143H144H145V225.5H146V227.5H147H148H149H150H151H152H153H154H155" fill="none" stroke="#425a80" stroke-width="1" shape-rendering="crispEdges"/></g><g><path d="M51.50,183.95V264.30H157.80" fill="none" stroke="#231f20" stroke-width="1"/><path d="M48.30,264.30H51.50M51.50,264.30V267.40M48.30,244.96H51.50M77.25,264.30V267.40M48.30,225.62H51.50M103.00,264.30V267.40M48.30,206.29H51.50M128.75,264.30V267.40M48.30,186.95H51.50M154.50,264.30V267.40" fill="none" stroke="#231f20" stroke-width="0.8"/><text transform="translate(44.70,266.90) scale(1,1.14)" font-size="7.3" text-anchor="end" class="k s">0</text><text transform="translate(44.70,247.56) scale(1,1.14)" font-size="7.3" text-anchor="end" class="k s">25</text><text transform="translate(44.70,228.22) scale(1,1.14)" font-size="7.3" text-anchor="end" class="k s">50</text><text transform="translate(44.70,208.89) scale(1,1.14)" font-size="7.3" text-anchor="end" class="k s">75</text><text transform="translate(44.70,189.55) scale(1,1.14)" font-size="7.3" text-anchor="end" class="k s">100</text><text transform="translate(51.50,278.00) scale(1,1.14)" font-size="7.3" text-anchor="middle" class="k s">0</text><text transform="translate(77.25,278.00) scale(1,1.14)" font-size="7.3" text-anchor="middle" class="k s">2</text><text transform="translate(103.00,278.00) scale(1,1.14)" font-size="7.3" text-anchor="middle" class="k s">4</text><text transform="translate(128.75,278.00) scale(1,1.14)" font-size="7.3" text-anchor="middle" class="k s">6</text><text transform="translate(154.50,278.00) scale(1,1.14)" font-size="7.3" text-anchor="middle" class="k s">8</text><text x="94.50" y="291.90" font-size="10.2" textLength="20.8" lengthAdjust="spacingAndGlyphs" class="k">Years</text><text transform="translate(24.90,259.65) rotate(-90)" x="0" y="0" font-size="9.7" textLength="72.8" lengthAdjust="spacingAndGlyphs" class="k">Percent surviving</text><text x="7.3" y="176.6" font-size="11" textLength="8.0" lengthAdjust="spacingAndGlyphs" class="k">C</text><text x="27.0" y="178.4" font-size="10.1" textLength="155.0" lengthAdjust="spacingAndGlyphs" class="k">Chronic lymphocytic leukemia (N=80)</text><text x="8.20" y="303.60" font-size="7" textLength="33.4" lengthAdjust="spacingAndGlyphs" class="k" style="stroke-width:0.24px">No. at risk:</text><text x="51.50" y="303.60" font-size="7" text-anchor="middle" class="bt s">80</text><text x="51.50" y="314.80" font-size="7" text-anchor="middle" class="rt s">80</text><text x="77.25" y="303.60" font-size="7" text-anchor="middle" class="bt s">65</text><text x="77.25" y="314.80" font-size="7" text-anchor="middle" class="rt s">49</text><text x="103.00" y="303.60" font-size="7" text-anchor="middle" class="bt s">45</text><text x="103.00" y="314.80" font-size="7" text-anchor="middle" class="rt s">28</text><text x="128.75" y="303.60" font-size="7" text-anchor="middle" class="bt s">33</text><text x="128.75" y="314.80" font-size="7" text-anchor="middle" class="rt s">22</text><text x="154.50" y="303.60" font-size="7" text-anchor="middle" class="bt s">23</text><text x="154.50" y="314.80" font-size="7" text-anchor="middle" class="rt s">12</text></g>
<g filter="url(#bl)"><polygon points="231,189 232,189 232,192 233,192 233,195 234,195 234,197 235,197 235,199 236,199 236,201 237,201 237,203 238,203 238,205 239,205 239,206 240,206 240,207 241,207 241,208 242,208 242,208 243,208 243,209 244,209 244,210 245,210 245,210 246,210 246,211 247,211 247,211 248,211 248,212 249,212 249,212 250,212 250,213 251,213 251,214 252,214 252,214 253,214 253,215 254,215 254,215 255,215 255,216 256,216 256,216 257,216 257,216 258,216 258,217 259,217 259,217 260,217 260,218 261,218 261,218 262,218 262,218 263,218 263,219 264,219 264,219 265,219 265,219 266,219 266,220 267,220 267,220 268,220 268,220 269,220 269,220 270,220 270,221 271,221 271,221 272,221 272,221 273,221 273,222 274,222 274,222 275,222 275,222 276,222 276,222 277,222 277,222 278,222 278,222 279,222 279,223 280,223 280,223 281,223 281,223 282,223 282,223 283,223 283,224 284,224 284,224 285,224 285,224 286,224 286,225 287,225 287,225 288,225 288,225 289,225 289,225 290,225 290,226 291,226 291,226 292,226 292,226 293,226 293,227 294,227 294,227 295,227 295,227 296,227 296,227 297,227 297,227 298,227 298,227 299,227 299,227 300,227 300,228 301,228 301,228 302,228 302,228 303,228 303,228 304,228 304,228 305,228 305,228 306,228 306,229 307,229 307,229 308,229 308,229 309,229 309,229 310,229 310,229 311,229 311,230 312,230 312,230 313,230 313,230 314,230 314,230 315,230 315,230 316,230 316,230 317,230 317,230 318,230 318,230 319,230 319,230 320,230 320,230 321,230 321,230 322,230 322,230 323,230 323,230 324,230 324,230 325,230 325,230 326,230 326,230 327,230 327,230 328,230 328,230 329,230 329,230 330,230 330,230 331,230 331,230 332,230 332,230 333,230 333,230 334,230 334,244 333,244 333,244 332,244 332,244 331,244 331,244 330,244 330,244 329,244 329,243 328,243 328,243 327,243 327,243 326,243 326,243 325,243 325,243 324,243 324,243 323,243 323,243 322,243 322,243 321,243 321,243 320,243 320,243 319,243 319,243 318,243 318,243 317,243 317,243 316,243 316,243 315,243 315,243 314,243 314,243 313,243 313,243 312,243 312,242 311,242 311,242 310,242 310,242 309,242 309,242 308,242 308,241 307,241 307,241 306,241 306,241 305,241 305,240 304,240 304,240 303,240 303,240 302,240 302,240 301,240 301,240 300,240 300,239 299,239 299,239 298,239 298,239 297,239 297,239 296,239 296,239 295,239 295,238 294,238 294,238 293,238 293,238 292,238 292,238 291,238 291,237 290,237 290,237 289,237 289,237 288,237 288,236 287,236 287,236 286,236 286,236 285,236 285,236 284,236 284,235 283,235 283,235 282,235 282,235 281,235 281,234 280,234 280,234 279,234 279,234 278,234 278,234 277,234 277,234 276,234 276,233 275,233 275,233 274,233 274,233 273,233 273,233 272,233 272,233 271,233 271,232 270,232 270,232 269,232 269,232 268,232 268,231 267,231 267,231 266,231 266,231 265,231 265,231 264,231 264,230 263,230 263,230 262,230 262,230 261,230 261,229 260,229 260,229 259,229 259,229 258,229 258,228 257,228 257,228 256,228 256,228 255,228 255,228 254,228 254,227 253,227 253,227 252,227 252,226 251,226 251,226 250,226 250,226 249,226 249,225 248,225 248,225 247,225 247,224 246,224 246,223 245,223 245,223 244,223 244,222 243,222 243,221 242,221 242,221 241,221 241,219 240,219 240,218 239,218 239,217 238,217 238,216 237,216 237,214 236,214 236,212 235,212 235,211 234,211 234,207 233,207 233,204 232,204 232,197 231,197" fill="#e6c0b9" shape-rendering="crispEdges"/><polygon points="231,187 232,187 232,188 233,188 233,188 234,188 234,189 235,189 235,190 236,190 236,191 237,191 237,191 238,191 238,192 239,192 239,193 240,193 240,194 241,194 241,195 242,195 242,196 243,196 243,196 244,196 244,197 245,197 245,197 246,197 246,198 247,198 247,199 248,199 248,199 249,199 249,199 250,199 250,200 251,200 251,200 252,200 252,201 253,201 253,201 254,201 254,201 255,201 255,202 256,202 256,202 257,202 257,202 258,202 258,203 259,203 259,203 260,203 260,203 261,203 261,203 262,203 262,204 263,204 263,204 264,204 264,204 265,204 265,204 266,204 266,204 267,204 267,205 268,205 268,205 269,205 269,205 270,205 270,205 271,205 271,205 272,205 272,206 273,206 273,206 274,206 274,206 275,206 275,206 276,206 276,206 277,206 277,206 278,206 278,206 279,206 279,206 280,206 280,206 281,206 281,206 282,206 282,206 283,206 283,207 284,207 284,207 285,207 285,207 286,207 286,208 287,208 287,208 288,208 288,208 289,208 289,209 290,209 290,209 291,209 291,209 292,209 292,210 293,210 293,210 294,210 294,210 295,210 295,210 296,210 296,210 297,210 297,210 298,210 298,210 299,210 299,210 300,210 300,210 301,210 301,210 302,210 302,210 303,210 303,210 304,210 304,211 305,211 305,211 306,211 306,211 307,211 307,211 308,211 308,212 309,212 309,212 310,212 310,212 311,212 311,212 312,212 312,212 313,212 313,212 314,212 314,212 315,212 315,212 316,212 316,213 317,213 317,213 318,213 318,213 319,213 319,214 320,214 320,214 321,214 321,214 322,214 322,214 323,214 323,214 324,214 324,215 325,215 325,215 326,215 326,215 327,215 327,215 328,215 328,215 329,215 329,215 330,215 330,215 331,215 331,216 332,216 332,216 333,216 333,216 334,216 334,229 333,229 333,229 332,229 332,229 331,229 331,228 330,228 330,228 329,228 329,228 328,228 328,228 327,228 327,228 326,228 326,228 325,228 325,227 324,227 324,227 323,227 323,227 322,227 322,227 321,227 321,227 320,227 320,226 319,226 319,226 318,226 318,226 317,226 317,225 316,225 316,225 315,225 315,225 314,225 314,225 313,225 313,225 312,225 312,224 311,224 311,224 310,224 310,224 309,224 309,224 308,224 308,224 307,224 307,224 306,224 306,223 305,223 305,223 304,223 304,223 303,223 303,223 302,223 302,222 301,222 301,222 300,222 300,222 299,222 299,222 298,222 298,222 297,222 297,222 296,222 296,222 295,222 295,222 294,222 294,222 293,222 293,222 292,222 292,221 291,221 291,221 290,221 290,221 289,221 289,221 288,221 288,220 287,220 287,220 286,220 286,220 285,220 285,219 284,219 284,219 283,219 283,218 282,218 282,218 281,218 281,217 280,217 280,217 279,217 279,216 278,216 278,216 277,216 277,216 276,216 276,216 275,216 275,216 274,216 274,216 273,216 273,215 272,215 272,215 271,215 271,215 270,215 270,215 269,215 269,215 268,215 268,215 267,215 267,215 266,215 266,215 265,215 265,214 264,214 264,214 263,214 263,214 262,214 262,214 261,214 261,214 260,214 260,213 259,213 259,213 258,213 258,213 257,213 257,212 256,212 256,212 255,212 255,212 254,212 254,211 253,211 253,211 252,211 252,210 251,210 251,210 250,210 250,209 249,209 249,209 248,209 248,208 247,208 247,207 246,207 246,206 245,206 245,206 244,206 244,205 243,205 243,204 242,204 242,203 241,203 241,202 240,202 240,201 239,201 239,200 238,200 238,199 237,199 237,198 236,198 236,197 235,197 235,196 234,196 234,194 233,194 233,193 232,193 232,191 231,191" fill="rgb(88,82,128)" fill-opacity="0.3" shape-rendering="crispEdges"/><path d="M231,189.5H232V192.5H233V195.5H234V197.5H235V199.5H236V201.5H237V203.5H238V205.5H239V206.5H240V207.5H241V208.5H242H243V209.5H244V210.5H245H246V211.5H247H248V212.5H249H250V213.5H251V214.5H252H253V215.5H254H255V216.5H256H257H258V217.5H259H260V218.5H261H262H263V219.5H264H265H266V220.5H267H268H269H270V221.5H271H272H273V222.5H274H275H276H277H278H279V223.5H280H281H282H283V224.5H284H285H286V225.5H287H288H289H290V226.5H291H292H293V227.5H294H295H296H297H298H299H300V228.5H301H302H303H304H305H306V229.5H307H308H309H310H311V230.5H312H313H314H315H316H317H318H319H320H321H322H323H324H325H326H327H328H329H330H331H332H333H334" fill="none" stroke="#d38e90" stroke-width="1" stroke-dasharray="1 1" shape-rendering="crispEdges"/><path d="M231,196.5H232V203.5H233V206.5H234V210.5H235V211.5H236V213.5H237V215.5H238V216.5H239V217.5H240V218.5H241V220.5H242H243V221.5H244V222.5H245H246V223.5H247V224.5H248H249V225.5H250H251H252V226.5H253H254V227.5H255H256H257H258V228.5H259H260H261V229.5H262H263H264V230.5H265H266H267H268V231.5H269H270H271V232.5H272H273H274H275H276V233.5H277H278H279H280H281V234.5H282H283H284V235.5H285H286H287H288V236.5H289H290H291V237.5H292H293H294H295V238.5H296H297H298H299H300V239.5H301H302H303H304H305V240.5H306H307H308V241.5H309H310H311H312V242.5H313H314H315H316H317H318H319H320H321H322H323H324H325H326H327H328H329V243.5H330H331H332H333H334" fill="none" stroke="#d38e90" stroke-width="1" stroke-dasharray="1 1" shape-rendering="crispEdges"/><path d="M231,187.5H232V188.5H233H234V189.5H235V190.5H236V191.5H237H238V192.5H239V193.5H240V194.5H241V195.5H242V196.5H243H244V197.5H245H246V198.5H247V199.5H248H249H250V200.5H251H252V201.5H253H254H255V202.5H256H257H258V203.5H259H260H261H262V204.5H263H264H265H266H267V205.5H268H269H270H271H272V206.5H273H274H275H276H277H278H279H280H281H282H283V207.5H284H285H286V208.5H287H288H289V209.5H290H291H292V210.5H293H294H295H296H297H298H299H300H301H302H303H304V211.5H305H306H307H308V212.5H309H310H311H312H313H314H315H316V213.5H317H318H319V214.5H320H321H322H323H324V215.5H325H326H327H328H329H330H331V216.5H332H333H334" fill="none" stroke="#8088aa" stroke-width="1" stroke-dasharray="1 1" shape-rendering="crispEdges"/><path d="M231,190.5H232V192.5H233V193.5H234V195.5H235V196.5H236V197.5H237V198.5H238V199.5H239V200.5H240V201.5H241V202.5H242V203.5H243V204.5H244V205.5H245H246V206.5H247V207.5H248V208.5H249H250V209.5H251H252V210.5H253H254V211.5H255H256H257V212.5H258H259H260V213.5H261H262H263H264H265V214.5H266H267H268H269H270H271H272H273V215.5H274H275H276H277H278H279V216.5H280H281V217.5H282H283V218.5H284H285V219.5H286H287H288V220.5H289H290H291H292V221.5H293H294H295H296H297H298H299H300H301H302V222.5H303H304H305H306V223.5H307H308H309H310H311H312V224.5H313H314H315H316H317V225.5H318H319H320V226.5H321H322H323H324H325V227.5H326H327H328H329H330H331V228.5H332H333H334" fill="none" stroke="#8088aa" stroke-width="1" stroke-dasharray="1 1" shape-rendering="crispEdges"/><path d="M231,193.5H232V196.5H233V200.5H234V203.5H235V205.5H236V208.5H237V209.5H238V210.5H239V211.5H240V212.5H241V213.5H242V214.5H243H244V215.5H245V216.5H246H247V217.5H248H249V218.5H250V219.5H251H252V220.5H253H254V221.5H255H256H257V222.5H258H259H260V223.5H261H262H263V224.5H264H265H266V225.5H267H268H269H270V226.5H271H272H273V227.5H274H275H276H277H278H279V228.5H280H281H282H283V229.5H284H285H286V230.5H287H288H289H290V231.5H291H292H293V232.5H294H295H296H297H298H299H300H301H302V233.5H303H304V234.5H305H306H307H308V235.5H309H310H311H312H313H314V236.5H315H316H317H318H319H320H321H322H323H324H325H326H327H328H329H330H331H332H333H334" fill="none" stroke="#98243a" stroke-width="1" shape-rendering="crispEdges"/><path d="M231,187.5H232V188.5H233V190.5H234V191.5H235V192.5H236V193.5H237V194.5H238V195.5H239V196.5H240V197.5H241V198.5H242H243V199.5H244V200.5H245V201.5H246V202.5H247H248V203.5H249H250V204.5H251H252H253V205.5H254H255V206.5H256H257H258V207.5H259H260V208.5H261H262H263H264H265V209.5H266H267H268H269H270H271H272H273H274V210.5H275H276H277H278H279H280H281V211.5H282H283V212.5H284H285H286V213.5H287H288H289H290H291V214.5H292H293H294H295H296H297H298H299H300H301V215.5H302H303V216.5H304H305H306H307V217.5H308H309H310H311H312H313H314H315H316V218.5H317H318H319V219.5H320H321H322V220.5H323H324H325H326V221.5H327H328H329H330H331H332H333H334" fill="none" stroke="#425a80" stroke-width="1" shape-rendering="crispEdges"/></g><g><path d="M230.85,183.95V264.30H337.15" fill="none" stroke="#231f20" stroke-width="1"/><path d="M227.65,264.30H230.85M230.85,264.30V267.40M227.65,244.96H230.85M256.60,264.30V267.40M227.65,225.62H230.85M282.35,264.30V267.40M227.65,206.29H230.85M308.10,264.30V267.40M227.65,186.95H230.85M333.85,264.30V267.40" fill="none" stroke="#231f20" stroke-width="0.8"/><text transform="translate(224.05,266.90) scale(1,1.14)" font-size="7.3" text-anchor="end" class="k s">0</text><text transform="translate(224.05,247.56) scale(1,1.14)" font-size="7.3" text-anchor="end" class="k s">25</text><text transform="translate(224.05,228.22) scale(1,1.14)" font-size="7.3" text-anchor="end" class="k s">50</text><text transform="translate(224.05,208.89) scale(1,1.14)" font-size="7.3" text-anchor="end" class="k s">75</text><text transform="translate(224.05,189.55) scale(1,1.14)" font-size="7.3" text-anchor="end" class="k s">100</text><text transform="translate(230.85,278.00) scale(1,1.14)" font-size="7.3" text-anchor="middle" class="k s">0</text><text transform="translate(256.60,278.00) scale(1,1.14)" font-size="7.3" text-anchor="middle" class="k s">2</text><text transform="translate(282.35,278.00) scale(1,1.14)" font-size="7.3" text-anchor="middle" class="k s">4</text><text transform="translate(308.10,278.00) scale(1,1.14)" font-size="7.3" text-anchor="middle" class="k s">6</text><text transform="translate(333.85,278.00) scale(1,1.14)" font-size="7.3" text-anchor="middle" class="k s">8</text><text x="273.85" y="291.90" font-size="10.2" textLength="20.8" lengthAdjust="spacingAndGlyphs" class="k">Years</text><text transform="translate(204.60,259.65) rotate(-90)" x="0" y="0" font-size="9.7" textLength="72.8" lengthAdjust="spacingAndGlyphs" class="k">Percent surviving</text><text x="190.0" y="176.6" font-size="11" textLength="8.8" lengthAdjust="spacingAndGlyphs" class="k">D</text><text x="215.0" y="178.4" font-size="10.1" textLength="137.5" lengthAdjust="spacingAndGlyphs" class="k">Non-Hodgkin lymphoma (N=175)</text><text x="187.50" y="303.60" font-size="7" textLength="33.4" lengthAdjust="spacingAndGlyphs" class="k" style="stroke-width:0.24px">No. at risk:</text><text x="230.85" y="303.60" font-size="7" text-anchor="middle" class="bt s">175</text><text x="230.85" y="314.80" font-size="7" text-anchor="middle" class="rt s">175</text><text x="256.60" y="303.60" font-size="7" text-anchor="middle" class="bt s">121</text><text x="256.60" y="314.80" font-size="7" text-anchor="middle" class="rt s">93</text><text x="282.35" y="303.60" font-size="7" text-anchor="middle" class="bt s">99</text><text x="282.35" y="314.80" font-size="7" text-anchor="middle" class="rt s">69</text><text x="308.10" y="303.60" font-size="7" text-anchor="middle" class="bt s">68</text><text x="308.10" y="314.80" font-size="7" text-anchor="middle" class="rt s">40</text><text x="333.85" y="303.60" font-size="7" text-anchor="middle" class="bt s">45</text><text x="333.85" y="314.80" font-size="7" text-anchor="middle" class="rt s">25</text></g>
<g filter="url(#bl)"><polygon points="402,187 403,187 403,187 404,187 404,187 405,187 405,187 406,187 406,187 407,187 407,187 408,187 408,188 409,188 409,189 410,189 410,190 411,190 411,192 412,192 412,193 413,193 413,195 414,195 414,196 415,196 415,197 416,197 416,198 417,198 417,199 418,199 418,200 419,200 419,201 420,201 420,203 421,203 421,204 422,204 422,206 423,206 423,206 424,206 424,206 425,206 425,206 426,206 426,206 427,206 427,207 428,207 428,208 429,208 429,209 430,209 430,210 431,210 431,211 432,211 432,211 433,211 433,211 434,211 434,211 435,211 435,211 436,211 436,211 437,211 437,211 438,211 438,211 439,211 439,211 440,211 440,211 441,211 441,211 442,211 442,211 443,211 443,211 444,211 444,211 445,211 445,211 446,211 446,214 447,214 447,214 448,214 448,214 449,214 449,214 450,214 450,214 451,214 451,214 452,214 452,214 453,214 453,214 454,214 454,214 455,214 455,214 456,214 456,214 457,214 457,214 458,214 458,214 459,214 459,214 460,214 460,214 461,214 461,214 462,214 462,214 463,214 463,214 464,214 464,214 465,214 465,214 466,214 466,214 467,214 467,214 468,214 468,214 469,214 469,214 470,214 470,214 471,214 471,214 472,214 472,214 473,214 473,214 474,214 474,214 475,214 475,214 476,214 476,214 477,214 477,214 478,214 478,214 479,214 479,214 480,214 480,214 481,214 481,214 482,214 482,214 483,214 483,214 484,214 484,214 485,214 485,214 486,214 486,214 487,214 487,214 488,214 488,214 489,214 489,214 490,214 490,214 491,214 491,214 492,214 492,214 493,214 493,214 494,214 494,214 495,214 495,214 496,214 496,214 497,214 497,214 498,214 498,214 499,214 499,214 500,214 500,214 501,214 501,214 502,214 502,214 503,214 503,214 504,214 504,214 505,214 505,241 504,241 504,241 503,241 503,241 502,241 502,241 501,241 501,241 500,241 500,241 499,241 499,241 498,241 498,241 497,241 497,241 496,241 496,241 495,241 495,241 494,241 494,241 493,241 493,241 492,241 492,241 491,241 491,241 490,241 490,241 489,241 489,241 488,241 488,241 487,241 487,241 486,241 486,241 485,241 485,241 484,241 484,241 483,241 483,241 482,241 482,241 481,241 481,241 480,241 480,241 479,241 479,241 478,241 478,241 477,241 477,241 476,241 476,241 475,241 475,241 474,241 474,241 473,241 473,241 472,241 472,241 471,241 471,241 470,241 470,241 469,241 469,241 468,241 468,241 467,241 467,241 466,241 466,241 465,241 465,241 464,241 464,241 463,241 463,241 462,241 462,241 461,241 461,241 460,241 460,241 459,241 459,241 458,241 458,241 457,241 457,241 456,241 456,241 455,241 455,241 454,241 454,241 453,241 453,241 452,241 452,241 451,241 451,241 450,241 450,241 449,241 449,241 448,241 448,241 447,241 447,241 446,241 446,237 445,237 445,237 444,237 444,237 443,237 443,237 442,237 442,237 441,237 441,237 440,237 440,237 439,237 439,237 438,237 438,237 437,237 437,237 436,237 436,237 435,237 435,237 434,237 434,237 433,237 433,237 432,237 432,237 431,237 431,237 430,237 430,236 429,236 429,233 428,233 428,229 427,229 427,229 426,229 426,229 425,229 425,229 424,229 424,229 423,229 423,229 422,229 422,229 421,229 421,229 420,229 420,226 419,226 419,224 418,224 418,222 417,222 417,221 416,221 416,219 415,219 415,217 414,217 414,215 413,215 413,212 412,212 412,210 411,210 411,207 410,207 410,205 409,205 409,202 408,202 408,199 407,199 407,196 406,196 406,192 405,192 405,188 404,188 404,188 403,188 403,188 402,188" fill="#e6c0b9" shape-rendering="crispEdges"/><polygon points="417,187 418,187 418,187 419,187 419,187 420,187 420,188 421,188 421,189 422,189 422,189 423,189 423,190 424,190 424,190 425,190 425,190 426,190 426,191 427,191 427,191 428,191 428,191 429,191 429,191 430,191 430,192 431,192 431,193 432,193 432,193 433,193 433,193 434,193 434,193 435,193 435,193 436,193 436,193 437,193 437,193 438,193 438,193 439,193 439,193 440,193 440,193 441,193 441,193 442,193 442,193 443,193 443,193 444,193 444,195 445,195 445,195 446,195 446,195 447,195 447,195 448,195 448,195 449,195 449,195 450,195 450,195 451,195 451,195 452,195 452,195 453,195 453,195 454,195 454,195 455,195 455,195 456,195 456,195 457,195 457,195 458,195 458,195 459,195 459,195 460,195 460,195 461,195 461,197 462,197 462,197 463,197 463,197 464,197 464,197 465,197 465,197 466,197 466,197 467,197 467,197 468,197 468,197 469,197 469,197 470,197 470,197 471,197 471,197 472,197 472,197 473,197 473,197 474,197 474,197 475,197 475,197 476,197 476,197 477,197 477,197 478,197 478,197 479,197 479,197 480,197 480,197 481,197 481,197 482,197 482,197 483,197 483,197 484,197 484,197 485,197 485,197 486,197 486,197 487,197 487,197 488,197 488,197 489,197 489,197 490,197 490,197 491,197 491,197 492,197 492,197 493,197 493,197 494,197 494,197 495,197 495,197 496,197 496,197 497,197 497,197 498,197 498,197 499,197 499,197 500,197 500,197 501,197 501,197 502,197 502,197 503,197 503,197 504,197 504,197 505,197 505,223 504,223 504,223 503,223 503,223 502,223 502,223 501,223 501,223 500,223 500,223 499,223 499,223 498,223 498,223 497,223 497,223 496,223 496,223 495,223 495,223 494,223 494,223 493,223 493,223 492,223 492,223 491,223 491,223 490,223 490,223 489,223 489,223 488,223 488,223 487,223 487,223 486,223 486,223 485,223 485,223 484,223 484,223 483,223 483,223 482,223 482,223 481,223 481,223 480,223 480,223 479,223 479,223 478,223 478,223 477,223 477,223 476,223 476,223 475,223 475,223 474,223 474,223 473,223 473,223 472,223 472,223 471,223 471,223 470,223 470,223 469,223 469,223 468,223 468,223 467,223 467,223 466,223 466,223 465,223 465,223 464,223 464,223 463,223 463,223 462,223 462,223 461,223 461,220 460,220 460,219 459,219 459,219 458,219 458,219 457,219 457,219 456,219 456,219 455,219 455,218 454,218 454,218 453,218 453,218 452,218 452,218 451,218 451,218 450,218 450,218 449,218 449,218 448,218 448,218 447,218 447,218 446,218 446,218 445,218 445,217 444,217 444,214 443,214 443,214 442,214 442,214 441,214 441,214 440,214 440,213 439,213 439,213 438,213 438,213 437,213 437,213 436,213 436,213 435,213 435,213 434,213 434,213 433,213 433,213 432,213 432,213 431,213 431,212 430,212 430,211 429,211 429,210 428,210 428,209 427,209 427,208 426,208 426,207 425,207 425,207 424,207 424,206 423,206 423,204 422,204 422,204 421,204 421,203 420,203 420,203 419,203 419,203 418,203 418,203 417,203" fill="rgb(88,82,128)" fill-opacity="0.3" shape-rendering="crispEdges"/><path d="M402,187.5H403H404H405H406H407H408V188.5H409V189.5H410V190.5H411V192.5H412V193.5H413V195.5H414V196.5H415V197.5H416V198.5H417V199.5H418V200.5H419V201.5H420V203.5H421V204.5H422V206.5H423H424H425H426H427V207.5H428V208.5H429V209.5H430V210.5H431V211.5H432H433H434H435H436H437H438H439H440H441H442H443H444H445H446V214.5H447H448H449H450H451H452H453H454H455H456H457H458H459H460H461H462H463H464H465H466H467H468H469H470H471H472H473H474H475H476H477H478H479H480H481H482H483H484H485H486H487H488H489H490H491H492H493H494H495H496H497H498H499H500H501H502H503H504H505" fill="none" stroke="#d38e90" stroke-width="1" stroke-dasharray="1 1" shape-rendering="crispEdges"/><path d="M402,187.5H403H404H405V191.5H406V195.5H407V198.5H408V201.5H409V204.5H410V206.5H411V209.5H412V211.5H413V214.5H414V216.5H415V218.5H416V220.5H417V221.5H418V223.5H419V225.5H420V228.5H421H422H423H424H425H426H427H428V232.5H429V235.5H430V236.5H431H432H433H434H435H436H437H438H439H440H441H442H443H444H445H446V240.5H447H448H449H450H451H452H453H454H455H456H457H458H459H460H461H462H463H464H465H466H467H468H469H470H471H472H473H474H475H476H477H478H479H480H481H482H483H484H485H486H487H488H489H490H491H492H493H494H495H496H497H498H499H500H501H502H503H504H505" fill="none" stroke="#d38e90" stroke-width="1" stroke-dasharray="1 1" shape-rendering="crispEdges"/><path d="M417,187.5H418H419H420V188.5H421V189.5H422H423V190.5H424H425H426V191.5H427H428H429H430V192.5H431V193.5H432H433H434H435H436H437H438H439H440H441H442H443H444V195.5H445H446H447H448H449H450H451H452H453H454H455H456H457H458H459H460H461V197.5H462H463H464H465H466H467H468H469H470H471H472H473H474H475H476H477H478H479H480H481H482H483H484H485H486H487H488H489H490H491H492H493H494H495H496H497H498H499H500H501H502H503H504H505" fill="none" stroke="#8088aa" stroke-width="1" stroke-dasharray="1 1" shape-rendering="crispEdges"/><path d="M417,202.5H418H419H420H421V203.5H422H423V205.5H424V206.5H425H426V207.5H427V208.5H428V209.5H429V210.5H430V211.5H431V212.5H432H433H434H435H436H437H438H439H440V213.5H441H442H443H444V216.5H445V217.5H446H447H448H449H450H451H452H453H454H455V218.5H456H457H458H459H460V219.5H461V222.5H462H463H464H465H466H467H468H469H470H471H472H473H474H475H476H477H478H479H480H481H482H483H484H485H486H487H488H489H490H491H492H493H494H495H496H497H498H499H500H501H502H503H504H505" fill="none" stroke="#8088aa" stroke-width="1" stroke-dasharray="1 1" shape-rendering="crispEdges"/><path d="M402,187.5H403H404H405H406V188.5H407V189.5H408V190.5H409V191.5H410V193.5H411V195.5H412V197.5H413V199.5H414V201.5H415V202.5H416V205.5H417V207.5H418V208.5H419V209.5H420V210.5H421V212.5H422V213.5H423V215.5H424H425H426H427H428H429V223.5H430H431H432H433H434H435H436H437H438H439H440H441H442H443H444H445H446V224.5H447V226.5H448H449H450H451H452H453H454H455H456H457H458H459H460H461H462H463H464H465H466H467H468H469H470H471H472H473H474H475H476H477H478H479H480H481H482H483H484H485H486H487H488H489H490H491H492H493H494H495H496H497H498H499H500H501H502H503H504H505" fill="none" stroke="#98243a" stroke-width="1" shape-rendering="crispEdges"/><path d="M417,187.5H418V189.5H419H420H421H422V192.5H423V194.5H424H425H426V195.5H427V196.5H428V197.5H429H430V198.5H431V200.5H432H433H434H435H436H437H438H439H440H441H442H443H444V203.5H445H446H447H448H449H450H451H452H453H454H455H456H457H458H459H460V205.5H461V207.5H462H463H464H465H466H467H468H469H470H471H472H473H474H475H476H477H478H479H480H481H482H483H484H485H486H487H488H489H490H491H492H493H494H495H496H497H498H499H500H501H502H503H504H505" fill="none" stroke="#425a80" stroke-width="1" shape-rendering="crispEdges"/><path d="M402.4,187.0H417.1" fill="none" stroke="#425a80" stroke-width="1"/></g><g><path d="M402.40,183.95V264.30H508.70" fill="none" stroke="#231f20" stroke-width="1"/><path d="M399.20,264.30H402.40M402.40,264.30V267.40M399.20,244.96H402.40M428.15,264.30V267.40M399.20,225.62H402.40M453.90,264.30V267.40M399.20,206.29H402.40M479.65,264.30V267.40M399.20,186.95H402.40M505.40,264.30V267.40" fill="none" stroke="#231f20" stroke-width="0.8"/><text transform="translate(395.60,266.90) scale(1,1.14)" font-size="7.3" text-anchor="end" class="k s">0</text><text transform="translate(395.60,247.56) scale(1,1.14)" font-size="7.3" text-anchor="end" class="k s">25</text><text transform="translate(395.60,228.22) scale(1,1.14)" font-size="7.3" text-anchor="end" class="k s">50</text><text transform="translate(395.60,208.89) scale(1,1.14)" font-size="7.3" text-anchor="end" class="k s">75</text><text transform="translate(395.60,189.55) scale(1,1.14)" font-size="7.3" text-anchor="end" class="k s">100</text><text transform="translate(402.40,278.00) scale(1,1.14)" font-size="7.3" text-anchor="middle" class="k s">0</text><text transform="translate(428.15,278.00) scale(1,1.14)" font-size="7.3" text-anchor="middle" class="k s">2</text><text transform="translate(453.90,278.00) scale(1,1.14)" font-size="7.3" text-anchor="middle" class="k s">4</text><text transform="translate(479.65,278.00) scale(1,1.14)" font-size="7.3" text-anchor="middle" class="k s">6</text><text transform="translate(505.40,278.00) scale(1,1.14)" font-size="7.3" text-anchor="middle" class="k s">8</text><text x="445.40" y="291.90" font-size="10.2" textLength="20.8" lengthAdjust="spacingAndGlyphs" class="k">Years</text><text transform="translate(375.50,259.65) rotate(-90)" x="0" y="0" font-size="9.7" textLength="72.8" lengthAdjust="spacingAndGlyphs" class="k">Percent surviving</text><text x="363.0" y="176.6" font-size="11" textLength="5.9" lengthAdjust="spacingAndGlyphs" class="k">E</text><text x="399.5" y="178.4" font-size="10.1" textLength="111.75" lengthAdjust="spacingAndGlyphs" class="k">Hodgkin lymphoma (N=35)</text><text x="359.00" y="303.60" font-size="7" textLength="33.4" lengthAdjust="spacingAndGlyphs" class="k" style="stroke-width:0.24px">No. at risk:</text><text x="402.40" y="303.60" font-size="7" text-anchor="middle" class="bt s">35</text><text x="402.40" y="314.80" font-size="7" text-anchor="middle" class="rt s">35</text><text x="428.15" y="303.60" font-size="7" text-anchor="middle" class="bt s">29</text><text x="428.15" y="314.80" font-size="7" text-anchor="middle" class="rt s">20</text><text x="453.90" y="303.60" font-size="7" text-anchor="middle" class="bt s">19</text><text x="453.90" y="314.80" font-size="7" text-anchor="middle" class="rt s">11</text><text x="479.65" y="303.60" font-size="7" text-anchor="middle" class="bt s">11</text><text x="479.65" y="314.80" font-size="7" text-anchor="middle" class="rt s">6</text><text x="505.40" y="303.60" font-size="7" text-anchor="middle" class="bt s">6</text><text x="505.40" y="314.80" font-size="7" text-anchor="middle" class="rt s">4</text></g>
<rect x="0" y="0" width="520" height="1" fill="#0a0a0a"/>
<rect x="0" y="323" width="520" height="1" fill="#0a0a0a"/>
<rect x="519" y="0" width="1" height="324" fill="#0a0a0a"/>
<rect x="0" y="0" width="1" height="324" fill="#545454"/>
<rect x="1" y="0" width="1" height="324" fill="#a0a0a0"/>
</svg></div></body></html>
